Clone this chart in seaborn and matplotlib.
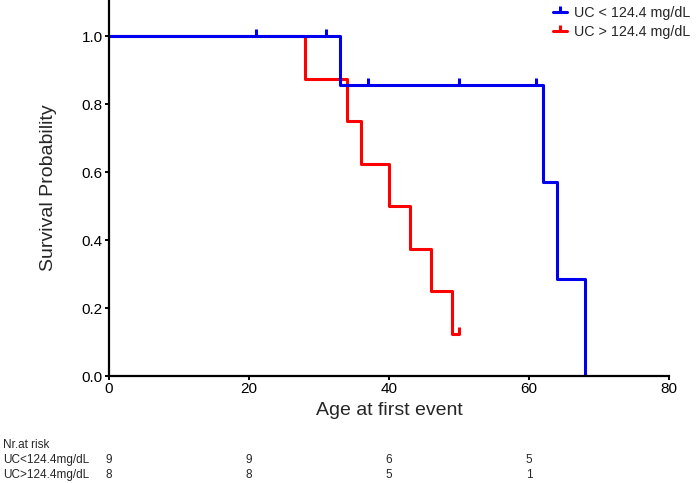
import numpy as np
import pandas as pd
import matplotlib
matplotlib.use("Agg")
import matplotlib.pyplot as plt
import seaborn as sns
from matplotlib import transforms
from matplotlib.lines import Line2D

# Kaplan-Meier step data
blue_t = [0, 33, 62, 64, 68]
blue_s = [1.0, 0.857, 0.571, 0.286, 0.0]
blue_end = 68
blue_cens_t = [21, 31, 37, 50, 61]
blue_cens_s = [1.0, 1.0, 0.857, 0.857, 0.857]

red_t = [0, 28, 34, 36, 40, 43, 46, 49]
red_s = [1.0, 0.875, 0.75, 0.625, 0.5, 0.375, 0.25, 0.125]
red_end = 50
red_cens_t = [50]
red_cens_s = [0.125]

labels = ["UC < 124.4 mg/dL", "UC > 124.4 mg/dL"]
risk_labels = ["UC<124.4mg/dL", "UC>124.4mg/dL"]
risk_times = [0, 20, 40, 60]
risk_blue = [9, 9, 6, 5]
risk_red = [8, 8, 5, 1]

colors = ["#0000ee", "#ff0000"]

sns.set_style("ticks")
plt.rcParams['font.family'] = ['Liberation Sans', 'DejaVu Sans']

W, H = 697, 483
fig = plt.figure(figsize=(W / 100, H / 100), dpi=100)
ax = fig.add_axes([109 / W, 1 - 376 / H, 560 / W, 376 / H])

rows = []
# red drawn first so that blue lies on top
for lab, t, s, end in [(labels[1], red_t, red_s, red_end), (labels[0], blue_t, blue_s, blue_end)]:
    for ti, si in zip(t, s):
        rows.append((lab, ti, si))
    rows.append((lab, end, s[-1]))
df = pd.DataFrame(rows, columns=["group", "time", "surv"])

sns.lineplot(data=df, x="time", y="surv", hue="group",
             hue_order=[labels[1], labels[0]], palette=[colors[1], colors[0]],
             estimator=None, drawstyle="steps-post", linewidth=2.2, ax=ax,
             legend=False, sort=False)

cens = pd.DataFrame(
    [(labels[0], t, s) for t, s in zip(blue_cens_t, blue_cens_s)] +
    [(labels[1], t, s) for t, s in zip(red_cens_t, red_cens_s)],
    columns=["group", "time", "surv"])
for lab, c in zip(labels, colors):
    sub = cens[cens.group == lab]
    ax.plot(sub.time, sub.surv, linestyle="none", marker=2, markersize=5,
            markeredgewidth=2.2, color=c)

ax.set_xlim(0, 80)
ax.set_ylim(0, 376 / 340)
ax.set_xticks([0, 20, 40, 60, 80])
ax.set_yticks([0.0, 0.2, 0.4, 0.6, 0.8, 1.0])
ax.set_yticklabels(["0.0", "0.2", "0.4", "0.6", "0.8", "1.0"])
for sp in ["top", "right"]:
    ax.spines[sp].set_visible(False)
for sp in ["left", "bottom"]:
    ax.spines[sp].set_linewidth(1.6)
    ax.spines[sp].set_color("black")
ax.tick_params(axis="both", direction="out", length=3, width=1.4,
               labelsize=11, colors="black", pad=1.5)
ax.set_xlabel("Age at first event", fontsize=14)
ax.set_ylabel("Survival Probability", fontsize=14)
ax.xaxis.set_label_coords(0.5, (376 - 402) / 376)
ax.yaxis.set_label_coords((57 - 109) / 560, 0.5)

handles = [Line2D([0, 0.5, 1], [0, 0, 0], color=c, lw=2.2, marker=2, markersize=4,
                  markeredgewidth=2.2, markevery=[1]) for c in colors]
fig.legend(handles, labels, loc="upper left", bbox_to_anchor=(547 / W, 1.0),
           frameon=False, fontsize=10.3, handlelength=1.0, handletextpad=0.5,
           labelspacing=0.35, borderaxespad=0)

# Number at risk table
trans = transforms.blended_transform_factory(ax.transData, fig.transFigure)
fig.text(3 / W, 1 - 445 / H, "Nr.at risk", fontsize=8.5, va="center", ha="left")
for lab, vals, ypx in [(risk_labels[0], risk_blue, 460), (risk_labels[1], risk_red, 475)]:
    fig.text(3 / W, 1 - ypx / H, lab, fontsize=8.5, va="center", ha="left")
    for t, v in zip(risk_times, vals):
        ax.text(t, 1 - ypx / H, str(v), transform=trans, fontsize=8.5,
                va="center", ha="center")

fig.savefig("out.png", dpi=100)
